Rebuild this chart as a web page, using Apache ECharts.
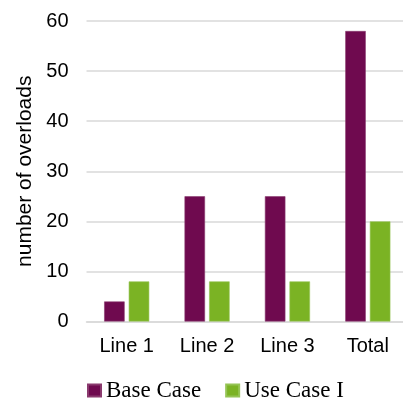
<!DOCTYPE html>
<html>
<head>
<meta charset="utf-8">
<script src="https://cdn.jsdelivr.net/npm/echarts@6/dist/echarts.min.js"></script>
<style>
  html, body { margin: 0; padding: 0; background: #ffffff; overflow: hidden; }
  #chart { width: 408px; height: 401px; }
</style>
</head>
<body>
<div id="chart"></div>
<script>
// Overload counts per line, before and after the use case is applied
const categories = ['Line 1', 'Line 2', 'Line 3', 'Total'];
const baseCase = [4, 25, 25, 58];
const useCaseI = [8, 8, 8, 20];
const yTicks = { min: 0, max: 60, interval: 10 };

const chart = echarts.init(document.getElementById('chart'), null, { renderer: 'canvas' });

chart.setOption({
  animation: false,
  backgroundColor: '#ffffff',
  grid: { left: 86.5, top: 21, right: 0, bottom: 79.5, containLabel: false },
  legend: {
    left: 87,
    top: 379,
    padding: 0,
    itemWidth: 13,
    itemHeight: 12,
    itemGap: 24,
    icon: 'rect',
    textStyle: { fontFamily: 'Liberation Serif', fontSize: 23, color: '#000000' },
    data: ['Base Case', 'Use Case I']
  },
  xAxis: {
    type: 'category',
    data: categories,
    axisLine: { show: true, lineStyle: { color: '#d9d9d9', width: 1.5 } },
    axisTick: { show: false },
    axisLabel: { fontFamily: 'Liberation Sans', fontSize: 20, color: '#000000', margin: 15 }
  },
  yAxis: {
    type: 'value',
    min: yTicks.min,
    max: yTicks.max,
    interval: yTicks.interval,
    name: 'number of overloads',
    nameLocation: 'middle',
    nameGap: 51,
    nameTextStyle: { fontFamily: 'Liberation Sans', fontSize: 21, color: '#000000' },
    axisLine: { show: false },
    axisTick: { show: false },
    splitLine: { lineStyle: { color: '#d9d9d9', width: 1.5 } },
    axisLabel: { fontFamily: 'Liberation Sans', fontSize: 20, color: '#000000', margin: 18 }
  },
  series: [
    {
      name: 'Base Case',
      type: 'bar',
      data: baseCase,
      barWidth: 20.5,
      barGap: '20%',
      itemStyle: { color: '#6f0a4f', borderColor: '#8a3a6e', borderWidth: 0.6 }
    },
    {
      name: 'Use Case I',
      type: 'bar',
      data: useCaseI,
      barWidth: 20.5,
      barGap: '20%',
      itemStyle: { color: '#7bb324', borderColor: '#95c455', borderWidth: 0.6 }
    }
  ]
});
</script>
</body>
</html>
